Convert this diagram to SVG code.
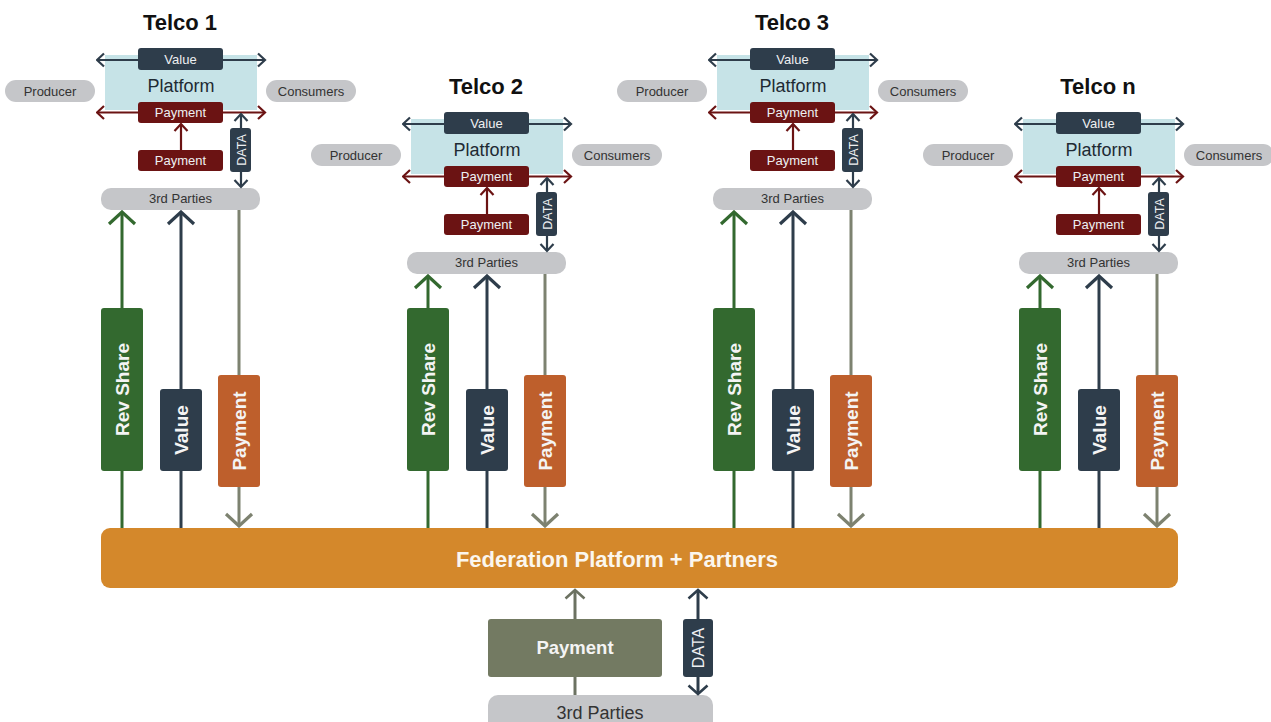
<svg xmlns="http://www.w3.org/2000/svg" width="1271" height="722" viewBox="0 0 1271 722">
  <style>
    text { font-family: "Liberation Sans", Arial, sans-serif; text-anchor: middle; }
    .title { font-size: 22px; font-weight: bold; fill: #111; }
    .pill { fill: #c5c6c9; }
    .pilltxt { font-size: 13px; fill: #333; }
    .plat { fill: #c6e3e7; }
    .plattxt { font-size: 18px; fill: #1e2a33; }
    .slate { fill: #2e3d4b; }
    .red { fill: #6b1313; }
    .lbl { font-size: 13px; fill: #eef0f2; }
    .green { fill: #33692f; }
    .rust { fill: #be5f2c; }
    .big { font-size: 19px; font-weight: bold; fill: #f4f4f4; }
    .fed { fill: #d4882b; }
    .olivebox { fill: #737a62; }
    .ln { fill: none; }
    .ln-slate { stroke: #2e3d4b; }
    .ln-red { stroke: #6b1313; }
    .ln-green { stroke: #33692f; }
    .ln-olive { stroke: #7d8270; }
    .ln-grey { stroke: #6c7262; }
    .thin { stroke-width: 2.2; }
    .thick { stroke-width: 3; }
  </style>
  <defs>
    <!-- small chevrons for platform flows -->
    <marker id="sSlate" viewBox="0 0 10 16" refX="8.5" refY="8" markerWidth="10" markerHeight="16" markerUnits="userSpaceOnUse" orient="auto-start-reverse">
      <path d="M1.5,1.5 L8.5,8 L1.5,14.5" fill="none" stroke="#2e3d4b" stroke-width="2.2"/>
    </marker>
    <marker id="sRed" viewBox="0 0 10 16" refX="8.5" refY="8" markerWidth="10" markerHeight="16" markerUnits="userSpaceOnUse" orient="auto-start-reverse">
      <path d="M1.5,1.5 L8.5,8 L1.5,14.5" fill="none" stroke="#6b1313" stroke-width="2.2"/>
    </marker>
    <!-- medium chevrons -->
    <marker id="mSlate" viewBox="0 0 12 22" refX="10" refY="11" markerWidth="12" markerHeight="22" markerUnits="userSpaceOnUse" orient="auto-start-reverse">
      <path d="M1.5,1.5 L10,11 L1.5,20.5" fill="none" stroke="#2e3d4b" stroke-width="2.6"/>
    </marker>
    <marker id="mGrey" viewBox="0 0 12 22" refX="10" refY="11" markerWidth="12" markerHeight="22" markerUnits="userSpaceOnUse" orient="auto-start-reverse">
      <path d="M1.5,1.5 L10,11 L1.5,20.5" fill="none" stroke="#6c7262" stroke-width="2.6"/>
    </marker>
    <!-- large chevrons for the federation flows -->
    <marker id="lGreen" viewBox="0 0 16 30" refX="14" refY="15" markerWidth="16" markerHeight="30" markerUnits="userSpaceOnUse" orient="auto-start-reverse">
      <path d="M2,2 L14,15 L2,28" fill="none" stroke="#33692f" stroke-width="3.2"/>
    </marker>
    <marker id="lSlate" viewBox="0 0 16 30" refX="14" refY="15" markerWidth="16" markerHeight="30" markerUnits="userSpaceOnUse" orient="auto-start-reverse">
      <path d="M2,2 L14,15 L2,28" fill="none" stroke="#2e3d4b" stroke-width="3.2"/>
    </marker>
    <marker id="lOlive" viewBox="0 0 16 30" refX="14" refY="15" markerWidth="16" markerHeight="30" markerUnits="userSpaceOnUse" orient="auto-start-reverse">
      <path d="M2,2 L14,15 L2,28" fill="none" stroke="#7d8270" stroke-width="3.2"/>
    </marker>
  </defs>

  <rect width="1271" height="722" fill="#ffffff"/>

  <!-- platform backgrounds, producers, consumers, titles -->
  <g id="telco1-platform" transform="translate(0,0)">
    <text class="title" x="180" y="30">Telco 1</text>
    <rect class="pill" x="5" y="80" width="90" height="22" rx="11"/>
    <text class="pilltxt" x="50" y="96">Producer</text>
    <rect class="pill" x="266" y="80" width="90" height="22" rx="11"/>
    <text class="pilltxt" x="311" y="96">Consumers</text>
    <rect class="plat" x="105" y="55" width="152" height="55"/>
    <text class="plattxt" x="181" y="92">Platform</text>
    <rect class="pill" x="101" y="188" width="159" height="22" rx="10"/>
    <text class="pilltxt" x="180.5" y="203">3rd Parties</text>
  </g>
  <g id="telco2-platform" transform="translate(306,64)">
    <text class="title" x="180" y="30">Telco 2</text>
    <rect class="pill" x="5" y="80" width="90" height="22" rx="11"/>
    <text class="pilltxt" x="50" y="96">Producer</text>
    <rect class="pill" x="266" y="80" width="90" height="22" rx="11"/>
    <text class="pilltxt" x="311" y="96">Consumers</text>
    <rect class="plat" x="105" y="55" width="152" height="55"/>
    <text class="plattxt" x="181" y="92">Platform</text>
    <rect class="pill" x="101" y="188" width="159" height="22" rx="10"/>
    <text class="pilltxt" x="180.5" y="203">3rd Parties</text>
  </g>
  <g id="telco3-platform" transform="translate(612,0)">
    <text class="title" x="180" y="30">Telco 3</text>
    <rect class="pill" x="5" y="80" width="90" height="22" rx="11"/>
    <text class="pilltxt" x="50" y="96">Producer</text>
    <rect class="pill" x="266" y="80" width="90" height="22" rx="11"/>
    <text class="pilltxt" x="311" y="96">Consumers</text>
    <rect class="plat" x="105" y="55" width="152" height="55"/>
    <text class="plattxt" x="181" y="92">Platform</text>
    <rect class="pill" x="101" y="188" width="159" height="22" rx="10"/>
    <text class="pilltxt" x="180.5" y="203">3rd Parties</text>
  </g>
  <g id="telcon-platform" transform="translate(918,64)">
    <text class="title" x="180" y="30">Telco n</text>
    <rect class="pill" x="5" y="80" width="90" height="22" rx="11"/>
    <text class="pilltxt" x="50" y="96">Producer</text>
    <rect class="pill" x="266" y="80" width="90" height="22" rx="11"/>
    <text class="pilltxt" x="311" y="96">Consumers</text>
    <rect class="plat" x="105" y="55" width="152" height="55"/>
    <text class="plattxt" x="181" y="92">Platform</text>
    <rect class="pill" x="101" y="188" width="159" height="22" rx="10"/>
    <text class="pilltxt" x="180.5" y="203">3rd Parties</text>
  </g>

  <!-- federation bar -->
  <g id="federation">
    <rect class="fed" x="101" y="528" width="1077" height="60" rx="9"/>
    <text x="617" y="567" style="font-size:22px;font-weight:bold;fill:#fbf6ee">Federation Platform + Partners</text>
  </g>

  <!-- bottom third parties -->
  <g id="bottom-parties">
    <rect class="pill" x="488" y="695" width="225" height="40" rx="10"/>
    <text x="600" y="719" style="font-size:18px;fill:#333">3rd Parties</text>
  </g>

  <g id="connectors">
    <!-- platform flows, one set per telco -->
    <g transform="translate(0,0)">
      <path class="ln ln-slate thin" d="M97,60 H265" marker-start="url(#sSlate)" marker-end="url(#sSlate)"/>
      <path class="ln ln-red thin" d="M97,112.5 H265" marker-start="url(#sRed)" marker-end="url(#sRed)"/>
      <path class="ln ln-red thin" d="M181,150 V124" marker-end="url(#sRed)"/>
      <path class="ln ln-slate thin" d="M241,114 V187" marker-start="url(#sSlate)" marker-end="url(#sSlate)"/>
    </g>
    <g transform="translate(306,64)">
      <path class="ln ln-slate thin" d="M97,60 H265" marker-start="url(#sSlate)" marker-end="url(#sSlate)"/>
      <path class="ln ln-red thin" d="M97,112.5 H265" marker-start="url(#sRed)" marker-end="url(#sRed)"/>
      <path class="ln ln-red thin" d="M181,150 V124" marker-end="url(#sRed)"/>
      <path class="ln ln-slate thin" d="M241,114 V187" marker-start="url(#sSlate)" marker-end="url(#sSlate)"/>
    </g>
    <g transform="translate(612,0)">
      <path class="ln ln-slate thin" d="M97,60 H265" marker-start="url(#sSlate)" marker-end="url(#sSlate)"/>
      <path class="ln ln-red thin" d="M97,112.5 H265" marker-start="url(#sRed)" marker-end="url(#sRed)"/>
      <path class="ln ln-red thin" d="M181,150 V124" marker-end="url(#sRed)"/>
      <path class="ln ln-slate thin" d="M241,114 V187" marker-start="url(#sSlate)" marker-end="url(#sSlate)"/>
    </g>
    <g transform="translate(918,64)">
      <path class="ln ln-slate thin" d="M97,60 H265" marker-start="url(#sSlate)" marker-end="url(#sSlate)"/>
      <path class="ln ln-red thin" d="M97,112.5 H265" marker-start="url(#sRed)" marker-end="url(#sRed)"/>
      <path class="ln ln-red thin" d="M181,150 V124" marker-end="url(#sRed)"/>
      <path class="ln ln-slate thin" d="M241,114 V187" marker-start="url(#sSlate)" marker-end="url(#sSlate)"/>
    </g>

    <!-- flows between third parties and the federation -->
    <path class="ln ln-green thick" d="M122,528 V212" marker-end="url(#lGreen)"/>
    <path class="ln ln-slate thick" d="M181,528 V212" marker-end="url(#lSlate)"/>
    <path class="ln ln-olive thick" d="M239,210 V526" marker-end="url(#lOlive)"/>

    <path class="ln ln-green thick" d="M428,528 V276" marker-end="url(#lGreen)"/>
    <path class="ln ln-slate thick" d="M487,528 V276" marker-end="url(#lSlate)"/>
    <path class="ln ln-olive thick" d="M545,274 V526" marker-end="url(#lOlive)"/>

    <path class="ln ln-green thick" d="M734,528 V212" marker-end="url(#lGreen)"/>
    <path class="ln ln-slate thick" d="M793,528 V212" marker-end="url(#lSlate)"/>
    <path class="ln ln-olive thick" d="M851,210 V526" marker-end="url(#lOlive)"/>

    <path class="ln ln-green thick" d="M1040,528 V276" marker-end="url(#lGreen)"/>
    <path class="ln ln-slate thick" d="M1099,528 V276" marker-end="url(#lSlate)"/>
    <path class="ln ln-olive thick" d="M1157,274 V526" marker-end="url(#lOlive)"/>

    <!-- bottom flows -->
    <path class="ln ln-grey thick" d="M575,619 V590" marker-end="url(#mGrey)"/>
    <path class="ln ln-grey thick" d="M575,677 V695"/>
    <path class="ln ln-slate thick" d="M698,590 V694" marker-start="url(#mSlate)" marker-end="url(#mSlate)"/>
  </g>

  <!-- labels on the platform flows -->
  <g id="telco1-labels" transform="translate(0,0)">
    <rect class="slate" x="138" y="48" width="85" height="22" rx="3"/>
    <text class="lbl" x="180.5" y="64">Value</text>
    <rect class="red" x="138" y="102" width="85" height="21" rx="3"/>
    <text class="lbl" x="180.5" y="117">Payment</text>
    <rect class="red" x="138" y="150" width="85" height="21" rx="3"/>
    <text class="lbl" x="180.5" y="165">Payment</text>
    <rect class="slate" x="230" y="128" width="21" height="44" rx="3"/>
    <text class="lbl" transform="translate(241,150) rotate(-90)" dy="0.36em" style="font-size:12.5px">DATA</text>
  </g>
  <g id="telco2-labels" transform="translate(306,64)">
    <rect class="slate" x="138" y="48" width="85" height="22" rx="3"/>
    <text class="lbl" x="180.5" y="64">Value</text>
    <rect class="red" x="138" y="102" width="85" height="21" rx="3"/>
    <text class="lbl" x="180.5" y="117">Payment</text>
    <rect class="red" x="138" y="150" width="85" height="21" rx="3"/>
    <text class="lbl" x="180.5" y="165">Payment</text>
    <rect class="slate" x="230" y="128" width="21" height="44" rx="3"/>
    <text class="lbl" transform="translate(241,150) rotate(-90)" dy="0.36em" style="font-size:12.5px">DATA</text>
  </g>
  <g id="telco3-labels" transform="translate(612,0)">
    <rect class="slate" x="138" y="48" width="85" height="22" rx="3"/>
    <text class="lbl" x="180.5" y="64">Value</text>
    <rect class="red" x="138" y="102" width="85" height="21" rx="3"/>
    <text class="lbl" x="180.5" y="117">Payment</text>
    <rect class="red" x="138" y="150" width="85" height="21" rx="3"/>
    <text class="lbl" x="180.5" y="165">Payment</text>
    <rect class="slate" x="230" y="128" width="21" height="44" rx="3"/>
    <text class="lbl" transform="translate(241,150) rotate(-90)" dy="0.36em" style="font-size:12.5px">DATA</text>
  </g>
  <g id="telcon-labels" transform="translate(918,64)">
    <rect class="slate" x="138" y="48" width="85" height="22" rx="3"/>
    <text class="lbl" x="180.5" y="64">Value</text>
    <rect class="red" x="138" y="102" width="85" height="21" rx="3"/>
    <text class="lbl" x="180.5" y="117">Payment</text>
    <rect class="red" x="138" y="150" width="85" height="21" rx="3"/>
    <text class="lbl" x="180.5" y="165">Payment</text>
    <rect class="slate" x="230" y="128" width="21" height="44" rx="3"/>
    <text class="lbl" transform="translate(241,150) rotate(-90)" dy="0.36em" style="font-size:12.5px">DATA</text>
  </g>

  <!-- vertical flow labels -->
  <g id="telco1-flows" transform="translate(0,0)">
    <rect class="green" x="101" y="308" width="42" height="163" rx="3"/>
    <text class="big" transform="translate(122,389.5) rotate(-90)" dy="0.36em">Rev Share</text>
    <rect class="slate" x="160" y="389" width="42" height="82" rx="3"/>
    <text class="big" transform="translate(181,430) rotate(-90)" dy="0.36em">Value</text>
    <rect class="rust" x="218" y="375" width="42" height="112" rx="3"/>
    <text class="big" transform="translate(239,431) rotate(-90)" dy="0.36em">Payment</text>
  </g>
  <g id="telco2-flows" transform="translate(306,0)">
    <rect class="green" x="101" y="308" width="42" height="163" rx="3"/>
    <text class="big" transform="translate(122,389.5) rotate(-90)" dy="0.36em">Rev Share</text>
    <rect class="slate" x="160" y="389" width="42" height="82" rx="3"/>
    <text class="big" transform="translate(181,430) rotate(-90)" dy="0.36em">Value</text>
    <rect class="rust" x="218" y="375" width="42" height="112" rx="3"/>
    <text class="big" transform="translate(239,431) rotate(-90)" dy="0.36em">Payment</text>
  </g>
  <g id="telco3-flows" transform="translate(612,0)">
    <rect class="green" x="101" y="308" width="42" height="163" rx="3"/>
    <text class="big" transform="translate(122,389.5) rotate(-90)" dy="0.36em">Rev Share</text>
    <rect class="slate" x="160" y="389" width="42" height="82" rx="3"/>
    <text class="big" transform="translate(181,430) rotate(-90)" dy="0.36em">Value</text>
    <rect class="rust" x="218" y="375" width="42" height="112" rx="3"/>
    <text class="big" transform="translate(239,431) rotate(-90)" dy="0.36em">Payment</text>
  </g>
  <g id="telcon-flows" transform="translate(918,0)">
    <rect class="green" x="101" y="308" width="42" height="163" rx="3"/>
    <text class="big" transform="translate(122,389.5) rotate(-90)" dy="0.36em">Rev Share</text>
    <rect class="slate" x="160" y="389" width="42" height="82" rx="3"/>
    <text class="big" transform="translate(181,430) rotate(-90)" dy="0.36em">Value</text>
    <rect class="rust" x="218" y="375" width="42" height="112" rx="3"/>
    <text class="big" transform="translate(239,431) rotate(-90)" dy="0.36em">Payment</text>
  </g>

  <!-- bottom payment and data -->
  <g id="bottom-payment">
    <rect class="olivebox" x="488" y="619" width="174" height="58" rx="3"/>
    <text class="big" x="575" y="654" style="font-size:18.5px">Payment</text>
  </g>
  <g id="bottom-data">
    <rect class="slate" x="683" y="619" width="30" height="58" rx="3"/>
    <text class="lbl" transform="translate(698,648) rotate(-90)" dy="0.36em" style="font-size:16px">DATA</text>
  </g>
</svg>
